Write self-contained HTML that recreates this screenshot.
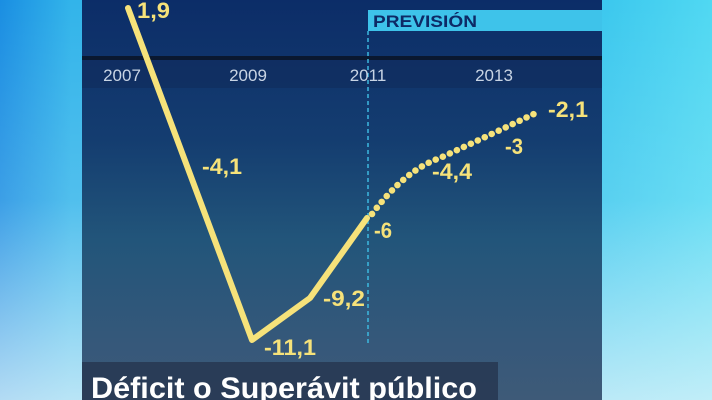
<!DOCTYPE html>
<html><head><meta charset="utf-8"><style>
html,body{margin:0;padding:0;width:712px;height:400px;overflow:hidden}
body{background:linear-gradient(90deg,#1a8ee2 0%,#32b4ea 10%,#3cc8ee 85%,#50d8f2 100%);position:relative;font-family:"Liberation Sans",sans-serif}
.bgfade{position:absolute;left:0;top:0;width:712px;height:400px;background:linear-gradient(180deg,rgba(255,255,255,0) 0%,rgba(255,255,255,0.15) 50%,rgba(230,245,250,0.75) 100%)}
.panel{position:absolute;left:82px;top:0;width:520px;height:400px;background:linear-gradient(180deg,#0c2d68 0%,#143d70 35%,#22557a 60%,#35587a 85%,#3e5a78 100%)}
</style></head><body>
<div class="bgfade"></div>
<div class="panel"></div>
<svg width="712" height="400" style="position:absolute;left:0;top:0" font-family="Liberation Sans, sans-serif">
<rect x="82" y="56" width="520" height="4" fill="#0a1830"/>
<rect x="82" y="60" width="520" height="28" fill="#102c5c" opacity="0.6"/>
<rect x="368" y="10" width="234" height="21" fill="#3ec3ea"/>
<text x="373" y="27" font-size="17" font-weight="bold" fill="#0d2a66" textLength="104" lengthAdjust="spacingAndGlyphs">PREVISIÓN</text>
<line x1="368" y1="31" x2="368" y2="345" stroke="#3cb8e0" stroke-width="1.5" stroke-dasharray="4,3"/>
<g font-size="17" fill="#c8d4e4" text-anchor="middle">
<text x="122" y="81">2007</text><text x="248" y="81">2009</text><text x="368" y="81">2011</text><text x="494" y="81">2013</text>
</g>
<polyline points="128,8 252,340 310,298 367,218" fill="none" stroke="#f6e27a" stroke-width="6" stroke-linejoin="round" stroke-linecap="round"/>
<path d="M372,214 Q405,170 440,158 Q490,135 538,112" fill="none" stroke="#f6e27a" stroke-width="6.5" stroke-linecap="round" stroke-dasharray="0.1,7.6"/>
<g font-size="22" font-weight="bold" fill="#f6e27a">
<text x="137" y="18" textLength="33" lengthAdjust="spacingAndGlyphs">1,9</text>
<text x="202" y="174" textLength="40" lengthAdjust="spacingAndGlyphs">-4,1</text>
<text x="264" y="355" textLength="52" lengthAdjust="spacingAndGlyphs">-11,1</text>
<text x="323" y="306" textLength="42" lengthAdjust="spacingAndGlyphs">-9,2</text>
<text x="374" y="238" textLength="18" lengthAdjust="spacingAndGlyphs">-6</text>
<text x="432" y="179" textLength="40" lengthAdjust="spacingAndGlyphs">-4,4</text>
<text x="505" y="154" textLength="18" lengthAdjust="spacingAndGlyphs">-3</text>
<text x="548" y="117" textLength="40" lengthAdjust="spacingAndGlyphs">-2,1</text>
</g>
<rect x="82" y="362" width="416" height="38" fill="#24334c" opacity="0.75"/>
<text x="91" y="398" font-size="30" font-weight="bold" fill="#ffffff" textLength="386" lengthAdjust="spacingAndGlyphs">Déficit o Superávit público</text>
</svg>
</body></html>
